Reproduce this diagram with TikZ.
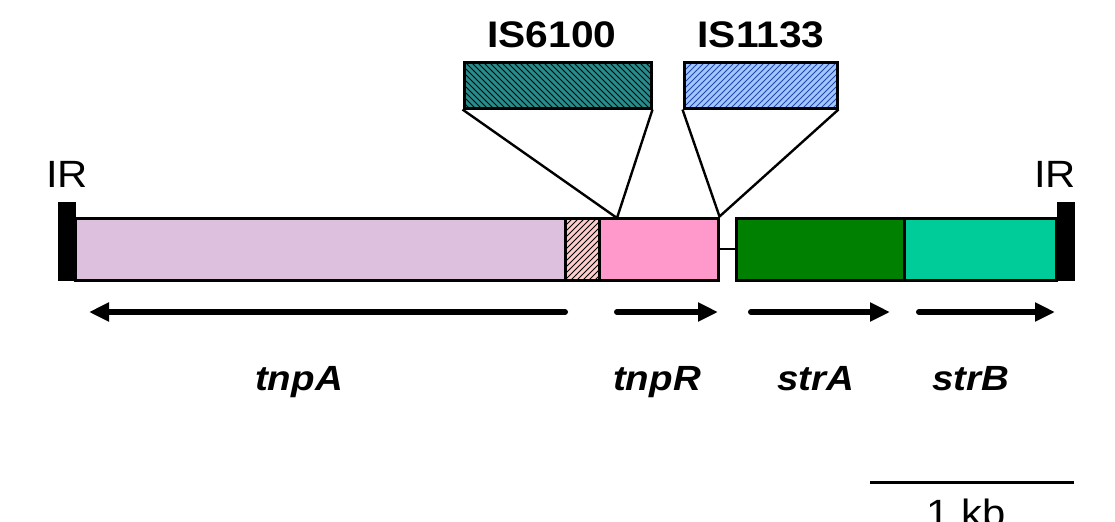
\documentclass[tikz,border=0pt]{standalone}
\usepackage{fontspec}
\setmainfont{Liberation Sans}
\usepackage{tikz}
\usepackage{xcolor}
\usetikzlibrary{patterns, arrows.meta}

\definecolor{lilac}{RGB}{220,192,222}
\definecolor{hatchpink}{RGB}{255,204,204}
\definecolor{tnprpink}{RGB}{255,153,204}
\definecolor{stragreen}{RGB}{0,128,0}
\definecolor{strbteal}{RGB}{0,204,153}
\definecolor{isteal}{RGB}{40,140,140}
\definecolor{isblue}{RGB}{160,200,255}
\definecolor{islines}{RGB}{40,70,170}
% labels in the figure are set a little wide
\newcommand{\widetxt}[1]{\scalebox{1.1}[1]{#1}}

\begin{document}
\begin{tikzpicture}[x=0.5pt, y=-0.5pt,
  genebox/.style={draw, line width=1.5pt, inner sep=0pt, minimum height=31pt, fill=#1},
  hatchbox/.style={draw, line width=1.5pt, inner sep=0pt, preaction={fill=#1}},
  irbar/.style={fill=black, inner sep=0pt, minimum width=9pt, minimum height=39.5pt},
  genearrow/.style={line width=3pt, line cap=round, -{Triangle[length=10pt, width=9pt]}},
  genename/.style={anchor=base, font=\fontsize{17.5}{20}\selectfont\bfseries\itshape},
  islabel/.style={anchor=base, font=\fontsize{18.5}{21}\selectfont\bfseries},
  plainlabel/.style={anchor=base, font=\fontsize{19}{22}\selectfont}]
\useasboundingbox (0,0) rectangle (1115,521);
%% inverted repeats
\node[irbar] (irL) at (66.5,241.5) {};
\node[irbar] (irR) at (1065.5,241.5) {};
\node[plainlabel] (irLtxt) at (67,187) {\widetxt{IR}};
\node[plainlabel] (irRtxt) at (1055,187) {\widetxt{IR}};
%% transposon body
\node[genebox=lilac, minimum width=245pt] (tnpAbox) at (320,249) {};
\node[hatchbox=hatchpink, pattern=north east lines, pattern color=black,
      minimum width=17pt, minimum height=31pt] (resbox) at (582,249) {};
\node[genebox=tnprpink, minimum width=59.5pt] (tnpRbox) at (658.5,249) {};
\node[genebox=stragreen, minimum width=84pt] (strAbox) at (820,249) {};
\node[genebox=strbteal, minimum width=76pt] (strBbox) at (980,249) {};
\draw[line width=0.9pt] (tnpRbox.east) -- (strAbox.west);
%% insertions
\node[hatchbox=isteal, pattern=north west lines, pattern color=black,
      minimum width=93.5pt, minimum height=23pt] (is6100) at (557.5,85) {};
\node[hatchbox=isblue, pattern=north east lines, pattern color=islines,
      minimum width=76.5pt, minimum height=23pt] (is1133) at (760.5,85) {};
\node[islabel] (is6100txt) at (552,47) {\widetxt{IS6100}};
\node[islabel] (is1133txt) at (761,47) {\widetxt{IS1133}};
\coordinate (ins6100) at (617,218);
\coordinate (ins1133) at (tnpRbox.north east);
\draw[line width=1.2pt] (is6100.south west) -- (ins6100) -- (is6100.south east);
\draw[line width=1.2pt] (is1133.south west) -- (ins1133) -- (is1133.south east);
%% gene arrows
\draw[genearrow] (565,312) -- (89,312);
\draw[genearrow] (617,312) -- (718,312);
\draw[genearrow] (751,312) -- (890,312);
\draw[genearrow] (919,312) -- (1055,312);
\node[genename] (tnpAtxt) at (299,390) {\widetxt{tnpA}};
\node[genename] (tnpRtxt) at (657,390) {\widetxt{tnpR}};
\node[genename] (strAtxt) at (816,390) {\widetxt{strA}};
\node[genename] (strBtxt) at (971,390) {\widetxt{strB}};
%% scale bar
\coordinate (barL) at (870,482);
\coordinate (barR) at (1074,482);
\draw[line width=1.5pt] (barL) -- (barR);
\node[plainlabel] (kbtxt) at (966,526) {\widetxt{1 kb}};
\end{tikzpicture}
\end{document}
